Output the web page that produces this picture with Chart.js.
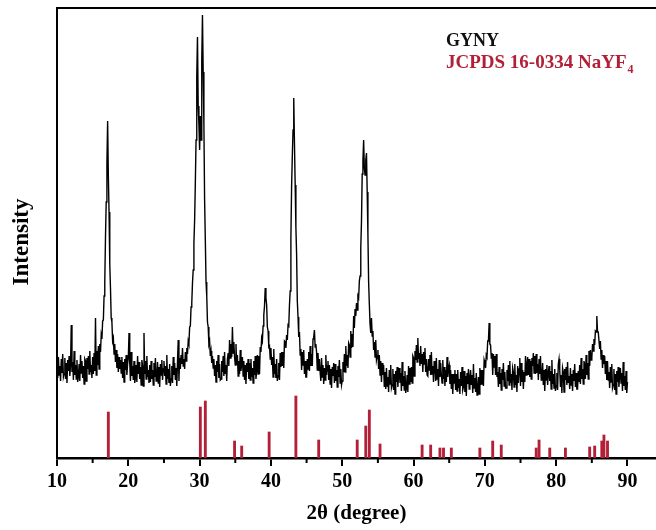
<!DOCTYPE html>
<html>
<head>
<meta charset="utf-8">
<script src="https://cdn.jsdelivr.net/npm/chart.js@4.4.1/dist/chart.umd.min.js"></script>
<style>
html,body{margin:0;padding:0;background:#fff;}
#c{display:block;}
</style>
</head>
<body>
<canvas id="c" width="656" height="530" style="width:656px;height:530px"></canvas>
<script>
// 2θ grid of the measured pattern (degrees), 10 → 90 in 0.1° steps
const thetaStart = 10, thetaStep = 0.1;
// GYNY diffraction intensity (arbitrary units), one row per degree (x.0 … x.9)
const gynyIntensity = [
  97, 80,101, 83, 92, 77, 99, 85,104, 81,   // 10
  84,100, 79, 95, 75, 98, 87,102, 82, 93,   // 11
 133, 86, 96, 78,107, 83, 93, 79, 98, 76,   // 12
  81, 94, 77,103, 85, 97, 80, 92, 74, 99,   // 13
  97, 77,100, 89,102, 84,107, 86, 93, 80,   // 14
 101, 84,105, 87,140, 83,107, 93,112, 89,   // 15
 114,106,123,119,137,138,162,176,221,256,   // 16
 295,337,282,246,194,170,140,136,117,120,   // 17
 104,114, 96,108, 90,104, 86,101, 89, 98,   // 18
  85,101, 80, 96, 76, 99, 88,103, 83, 94,   // 19
 100,125, 95, 77,106, 82, 92, 78, 97, 75,   // 20
  80, 93, 76,102, 84, 96, 79, 91, 73, 98,   // 21
  92, 72,125, 84, 97, 79,102, 81, 88, 75,   // 22
  93, 76, 97, 79, 88, 73, 95, 81,100, 77,   // 23
  80, 96, 75, 91, 71, 94, 83, 98, 78, 89,   // 24
  97, 82, 92, 74,103, 79, 89, 75, 94, 72,   // 25
  79, 92, 75,101, 83, 95, 78, 90, 72, 97,   // 26
 118, 77,100, 89,103, 94,110, 92, 99, 89,   // 27
 106, 97,110,104,117,114,131,132,151,155,   // 28
 175,188,215,238,275,318,382,421,352,334,   // 29
 308,342,318,398,443,386,334,258,218,176,   // 30
 162,136,131,114,117,102,107, 95,102, 90,   // 31
  99, 82, 93, 76, 97, 86,103, 80, 94, 78,   // 32
  79, 97, 86,102, 82,106, 84, 93, 77, 99,   // 33
 105, 92,118,100,114,101,131,105,116,101,   // 34
  93,114, 93,103, 82, 97, 84,108, 87, 95,   // 35
 101, 82, 97, 78, 93, 74, 95, 86, 99, 79,   // 36
  95, 78, 99, 81, 90, 75, 97, 83,102, 79,   // 37
  87,103, 84,102, 84,111,106,120,117,132,   // 38
 143,152,170,160,153,131,127,111,112, 99,   // 39
 110, 93,101, 81,109, 84, 94, 80, 99, 77,   // 40
  82, 95, 78,105, 91,106, 92,106, 90,117,   // 41
 116,110,123,118,133,132,153,167,220,272,   // 42
 302,328,360,315,273,231,204,157,141,121,   // 43
 126,103,109, 88,106, 93,108, 84, 97, 81,   // 44
  81, 99, 89,106, 87,112, 92,104, 92,119,   // 45
 121,128,111,114,106, 88,105, 87, 99, 86,   // 46
  77,100, 81, 93, 74, 90, 78,103, 83, 92,   // 47
  97, 78, 93, 74, 89, 70, 91, 82, 95, 75,   // 48
  94, 77, 88, 71, 92, 81, 98, 75, 89, 73,   // 49
  77, 96, 86,104, 86,112, 92,103, 90,115,   // 50
 113,101,127,110,124,111,142,130,149,142,   // 51
 155,148,162,160,177,182,210,237,284,297,   // 52
 318,290,283,298,305,266,224,176,154,134,   // 53
 125,140,122,127,108,116,101,118, 98,102,   // 54
 108, 89,103, 83, 97, 76, 95, 83, 93, 71,   // 55
  86, 69, 90, 72, 81, 66, 88, 74, 93, 70,   // 56
  73, 89, 68, 84, 64, 87, 76, 91, 71, 82,   // 57
  90, 75, 85, 67, 96, 72, 82, 68, 87, 65,   // 58
  70, 83, 66, 92, 74, 90, 76, 91, 75,102,   // 59
 100, 82,107, 98,113, 96,120, 99,105, 92,   // 60
 112, 94,104, 86,106, 94,110, 86, 99, 83,   // 61
  82, 99, 88,103, 83,106, 84, 92, 76, 97,   // 62
  92, 77,100, 79, 89, 72, 98, 81, 95, 83,   // 63
  75, 98, 79, 91, 72, 88, 76,101, 81, 90,   // 64
  93, 74, 88, 69, 84, 64, 84, 75, 88, 68,   // 65
  84, 67, 88, 70, 79, 64, 86, 72, 91, 68,   // 66
  71, 87, 66, 82, 62, 85, 74, 89, 69, 80,   // 67
  88, 73, 83, 65, 94, 70, 80, 66, 85, 63,   // 68
  68, 81, 64, 90, 73, 88, 74, 88, 72, 98,   // 69
  95, 90,103,101,117,117,135,114,113,100,   // 70
 105, 83,104, 91,102, 83,104, 81, 86, 71,   // 71
  91, 74, 85, 68, 89, 78, 95, 72, 86, 70,   // 72
  70, 88, 77, 93, 73, 97, 75, 84, 68, 90,   // 73
  86, 71, 94, 73, 83, 66, 92, 75, 89,100,   // 74
  72, 95, 76, 88, 69, 86, 76,102, 83, 93,   // 75
 101, 83, 99, 81, 97, 79,100, 92,105, 85,   // 76
 102, 84,104, 85, 94, 78, 99, 84,102, 78,   // 77
  80, 95, 73, 88, 67, 89, 78, 93, 73, 84,   // 78
  92, 77, 87, 69, 98, 74, 84, 70, 89, 67,   // 79
  72, 85, 68, 94, 99, 88, 71, 83, 65, 90,   // 80
  86, 66, 89, 78, 91, 73, 96, 75, 82, 69,   // 81
  90, 73, 84, 67, 88, 77, 94, 71, 85, 69,   // 82
  69, 87, 76, 93, 74,100, 79, 89, 74, 97,   // 83
  93, 79,103, 83, 95, 79,107, 92,108, 98,   // 84
 100,114,107,119,113,127,126,142,126,126,   // 85
 126,109,117, 99,108, 90,103, 94,102, 84,   // 86
  97, 78, 97, 78, 86, 70, 91, 76, 94, 70,   // 87
  73, 89, 68, 84, 64, 87, 76, 91, 71, 82,   // 88
  90, 75, 85, 67, 96, 72, 82, 68, 87, 65,   // 89
  76                                        // 90
];
// JCPDS 16-0334 NaYF4 reference lines
const refPositions = [17.2, 30.1, 30.8, 34.9, 35.9, 39.75, 43.5, 46.7, 52.1, 53.3, 53.8, 55.3,
  61.2, 62.4, 63.7, 64.2, 65.3, 69.3, 71.1, 72.3, 77.2, 77.6, 79.1, 81.3, 84.7, 85.4, 86.4, 86.7, 87.2];
const refIntensity = [46, 51, 57, 17, 12, 26, 62, 18, 18, 32, 48, 14,
  13, 13, 10, 10, 10, 10, 17, 13, 10, 18, 10, 10, 11, 12, 17, 23, 17];
// axis ticks
const majorTicks = [10, 20, 30, 40, 50, 60, 70, 80, 90];
const minorTicks = [15, 25, 35, 45, 55, 65, 75, 85];
const labelGyny = 'GYNY';
const labelRef = 'JCPDS 16-0334 NaYF';
const labelRefSub = '4';
const xTitle = '2θ (degree)';
const yTitle = 'Intensity';

const RED = '#b21f36';
const FONT = '"Liberation Serif", "Times New Roman", serif';

const patternPoints = gynyIntensity.map((v, i) => ({x: +(thetaStart + i * thetaStep).toFixed(2), y: v}));
const refPoints = refPositions.map((p, i) => ({x: p, y: refIntensity[i]}));

const framePlugin = {
  id: 'frame',
  afterDraw(chart) {
    const {ctx, chartArea: a, scales} = chart;
    ctx.save();
    ctx.strokeStyle = '#000';
    ctx.lineWidth = 2;
    ctx.beginPath();
    ctx.moveTo(a.left - 1, a.top);
    ctx.lineTo(a.right, a.top);
    ctx.stroke();
    minorTicks.forEach(v => {
      const px = scales.x.getPixelForValue(v);
      ctx.beginPath();
      ctx.moveTo(px, a.bottom);
      ctx.lineTo(px, a.bottom + 5);
      ctx.stroke();
    });
    ctx.textBaseline = 'alphabetic';
    ctx.textAlign = 'left';
    ctx.font = 'bold 18px ' + FONT;
    ctx.fillStyle = '#111';
    ctx.fillText(labelGyny, 446, 46);
    ctx.font = 'bold 19px ' + FONT;
    ctx.fillStyle = RED;
    ctx.fillText(labelRef, 446, 68);
    const w = ctx.measureText(labelRef).width;
    ctx.font = 'bold 12px ' + FONT;
    ctx.fillText(labelRefSub, 446 + w + 1, 73);
    ctx.translate(22, 242);
    ctx.rotate(-Math.PI / 2);
    ctx.textAlign = 'center';
    ctx.textBaseline = 'middle';
    ctx.font = 'bold 23px ' + FONT;
    ctx.fillStyle = '#000';
    ctx.fillText(yTitle, 0, 0);
    ctx.restore();
  }
};

new Chart(document.getElementById('c'), {
  type: 'line',
  data: {
    datasets: [
      {
        type: 'line',
        label: labelGyny,
        data: patternPoints,
        borderColor: '#000',
        borderWidth: 1.4,
        pointRadius: 0,
        tension: 0,
        fill: false,
        order: 1
      },
      {
        type: 'bar',
        label: labelRef,
        data: refPoints,
        backgroundColor: RED,
        borderWidth: 0,
        barThickness: 2.2,
        order: 2
      }
    ]
  },
  options: {
    responsive: false,
    animation: false,
    devicePixelRatio: 1,
    layout: {padding: {left: 0, right: 0, top: 8, bottom: 0}},
    plugins: {legend: {display: false}, tooltip: {enabled: false}},
    scales: {
      x: {
        type: 'linear',
        min: 10,
        max: 94,
        offset: false,
        afterBuildTicks(scale) { scale.ticks = majorTicks.map(v => ({value: v})); },
        afterFit(scale) { scale.height = 72; },
        ticks: {
          autoSkip: false,
          maxRotation: 0,
          padding: 4,
          color: '#000',
          font: {family: FONT, size: 20, weight: 'bold'}
        },
        grid: {
          drawOnChartArea: false,
          drawTicks: true,
          tickLength: 8,
          color: '#000',
          lineWidth: 2,
          offset: false
        },
        border: {display: true, color: '#000', width: 2.5},
        title: {
          display: true,
          text: xTitle,
          color: '#000',
          font: {family: FONT, size: 21, weight: 'bold'},
          padding: {top: 0, bottom: 4}
        }
      },
      y: {
        type: 'linear',
        min: 0,
        max: 450,
        afterFit(scale) { scale.width = 57; },
        ticks: {display: false},
        grid: {display: false, drawTicks: false},
        border: {display: true, color: '#000', width: 2}
      }
    }
  },
  plugins: [framePlugin]
});
</script>
</body>
</html>
